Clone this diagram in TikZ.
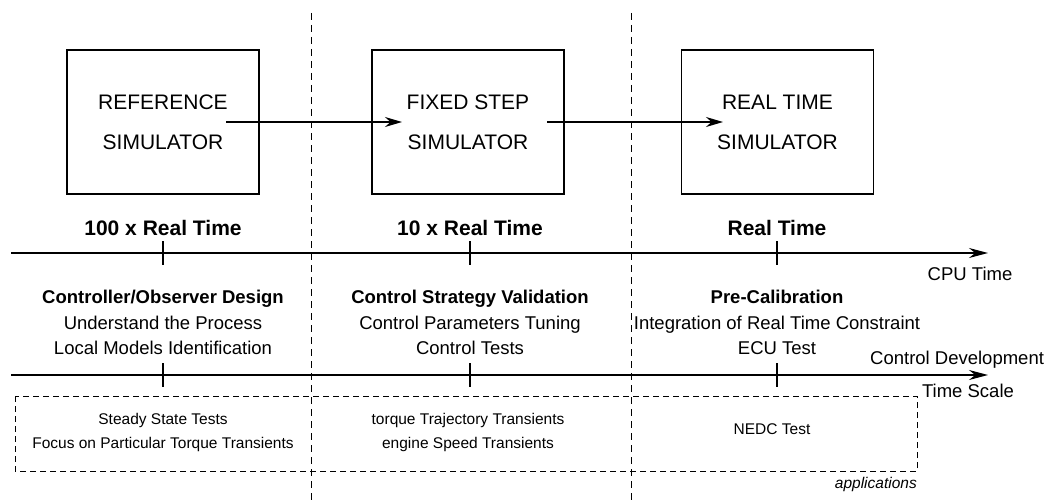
\documentclass[tikz,border=0pt]{standalone}
\usepackage{fontspec}
\setmainfont{Liberation Sans}
\usetikzlibrary{arrows.meta}
\begin{document}
\begin{tikzpicture}[x=1pt,y=-1pt,
  simbox/.style={draw,line width=1.1pt,minimum width=192pt,minimum height=144pt,inner sep=0pt,align=center,font=\fontsize{21}{40}\selectfont},
  flow/.style={line width=1.4pt,-{Stealth[length=17pt,width=10pt]}},
  axis/.style={line width=1.5pt,-{Stealth[length=19pt,width=10pt]}},
  tick/.style={line width=1.1pt},
  sep/.style={line width=0.9pt,dash pattern=on 7pt off 5pt},
  appbox/.style={line width=0.9pt,dash pattern=on 6pt off 4pt},
  rate/.style={font=\fontsize{21}{25}\selectfont\bfseries,anchor=base,inner sep=0pt},
  head/.style={font=\fontsize{18.5}{22}\selectfont\bfseries,anchor=base,inner sep=0pt},
  item/.style={font=\fontsize{18.5}{22}\selectfont,anchor=base,inner sep=0pt},
  app/.style={font=\fontsize{15.5}{18}\selectfont,anchor=base,inner sep=0pt},
]
\useasboundingbox (0,0) rectangle (1053,503);

% separators
\coordinate (s1t) at (311,13); \coordinate (s1b) at (311,503);
\coordinate (s2t) at (631,13); \coordinate (s2b) at (631,503);
\draw[sep] (s1t) -- (s1b);
\draw[sep] (s2t) -- (s2b);

% simulator boxes
\node[simbox] (b1) at (163,122) {REFERENCE\\SIMULATOR};
\node[simbox] (b2) at (468,122) {FIXED STEP\\SIMULATOR};
\node[simbox] (b3) at (777.5,122) {REAL TIME\\SIMULATOR};
\draw[flow] ([xshift=63pt]b1.center) -- ([xshift=-66pt]b2.center);
\draw[flow] ([xshift=79pt]b2.center) -- ([xshift=-54.5pt]b3.center);

% rate labels
\node[rate] (r1) at (163,235) {100 x Real Time};
\node[rate] (r2) at (470,235) {10 x Real Time};
\node[rate] (r3) at (777,235) {Real Time};

% CPU time axis
\coordinate (a1s) at (11,253); \coordinate (a1e) at (988,253);
\draw[axis] (a1s) -- (a1e);
\foreach \x [count=\i] in {163,470,777}{
  \coordinate (t1a\i) at (\x,241); \coordinate (t1b\i) at (\x,265);
  \draw[tick] (t1a\i) -- (t1b\i);
}
\node[item] (cpu) at (970,280) {CPU Time};

% development texts
\node[head] (h1) at (163,303) {Controller/Observer Design};
\node[item] (h1a) at (163,329) {Understand the Process};
\node[item] (h1b) at (163,354) {Local Models Identification};
\node[head] (h2) at (470,303) {Control Strategy Validation};
\node[item] (h2a) at (470,329) {Control Parameters Tuning};
\node[item] (h2b) at (470,354) {Control Tests};
\node[head] (h3) at (777,303) {Pre-Calibration};
\node[item] (h3a) at (777,329) {Integration of Real Time Constraint};
\node[item] (h3b) at (777,354) {ECU Test};

% control development axis
\coordinate (a2s) at (11,375); \coordinate (a2e) at (988,375);
\draw[axis] (a2s) -- (a2e);
\foreach \x [count=\i] in {163,470,777}{
  \coordinate (t2a\i) at (\x,363); \coordinate (t2b\i) at (\x,387);
  \draw[tick] (t2a\i) -- (t2b\i);
}
\node[item,anchor=base west] (cd) at (870,364) {Control Development};
\node[item] (ts) at (968,397) {Time Scale};

% applications box
\coordinate (apptl) at (15,396); \coordinate (appbr) at (917,471);
\draw[appbox] (apptl) rectangle (appbr);
\node[app] (p1a) at (163,424) {Steady State Tests};
\node[app] (p1b) at (163,448) {Focus on Particular Torque Transients};
\node[app] (p2a) at (468,424) {torque Trajectory Transients};
\node[app] (p2b) at (468,448) {engine Speed Transients};
\node[app] (p3) at (772,434) {NEDC Test};
\node[app,anchor=base east,font=\fontsize{15.5}{18}\selectfont\itshape] (appl) at (917,488) {applications};
\end{tikzpicture}
\end{document}
